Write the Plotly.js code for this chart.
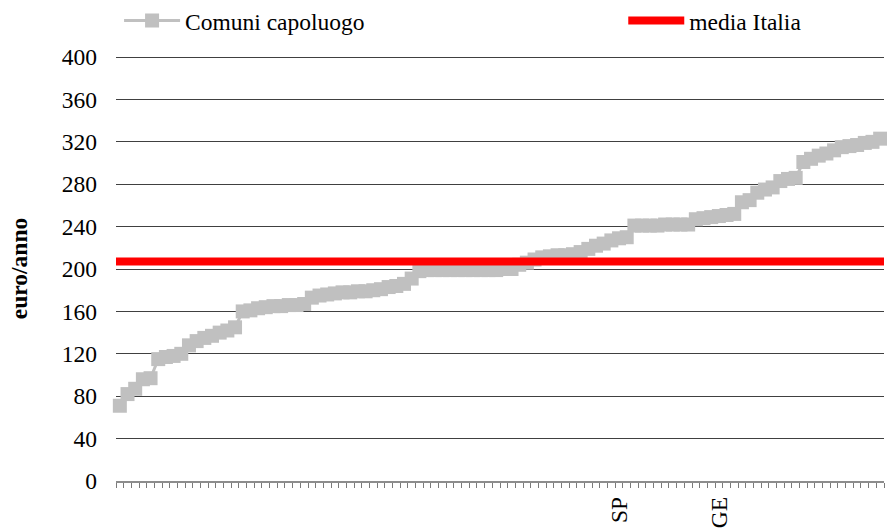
<!DOCTYPE html>
<html>
<head>
<meta charset="utf-8">
<script src="https://cdn.plot.ly/plotly-3.0.1.min.js"></script>
<style>html,body{margin:0;padding:0;background:#fff;}#chart{width:887px;height:532px;}</style>
</head>
<body>
<div id="chart"></div>
<script>
// Comuni capoluogo (sorted), euro/anno
const comuniValues = [
  71, 82, 87, 96, 97, 115, 117, 118, 120, 128,
  132, 135, 137, 140, 142, 145, 160, 161, 163, 164,
  165, 165, 166, 166, 167, 173, 175, 176, 177, 178,
  178, 179, 179, 180, 181, 183, 184, 186, 191, 198,
  199, 199, 199, 199, 199, 199, 199, 199, 199, 199,
  200, 200, 204, 206, 209, 211, 212, 213, 213, 214,
  216, 219, 222, 224, 227, 229, 230, 241, 241, 241,
  241, 242, 242, 242, 242, 247, 248, 249, 250, 251,
  252, 263, 265, 272, 275, 277, 283, 285, 286, 301,
  304, 307, 309, 312, 315, 316, 317, 319, 320, 323
];
const mediaItalia = 207;
const categoryLabels = comuniValues.map(() => "");
categoryLabels[65] = "SP";
categoryLabels[78] = "GE";
const yTicks = [0, 40, 80, 120, 160, 200, 240, 280, 320, 360, 400];
const seriesNames = ["Comuni capoluogo", "media Italia"];

const idx = comuniValues.map((_, i) => i);
const mediaValues = comuniValues.map(() => mediaItalia);

const FONT = "Liberation Serif, Times New Roman, serif";
const FS = 23.5;

const traces = [
  {
    type: 'scatter', mode: 'lines', name: seriesNames[1],
    x: idx, y: mediaValues, xaxis: 'x2', yaxis: 'y',
    line: {color: '#FF0000', width: 8},
    legend: 'legend2', hoverinfo: 'skip'
  },
  {
    type: 'scatter', mode: 'lines+markers', name: seriesNames[0],
    x: idx, y: comuniValues, xaxis: 'x', yaxis: 'y',
    line: {color: '#C0C0C0', width: 3},
    marker: {symbol: 'square', size: 14, color: '#C0C0C0', line: {width: 0}},
    cliponaxis: false, legend: 'legend'
  }
];

const layout = {
  width: 887, height: 532,
  margin: {l: 116, r: 3, t: 56, b: 51, autoexpand: false},
  paper_bgcolor: '#fff', plot_bgcolor: '#fff',
  font: {family: FONT, size: FS, color: '#000'},
  showlegend: true,
  legend: {x: 0.004, y: 1.083, xanchor: 'left', yanchor: 'middle', itemwidth: 56,
           bgcolor: 'rgba(0,0,0,0)', font: {family: FONT, size: FS, color: '#000'}},
  legend2: {x: 0.6605, y: 1.083, xanchor: 'left', yanchor: 'middle', itemwidth: 56,
            bgcolor: 'rgba(0,0,0,0)', font: {family: FONT, size: FS, color: '#000'}},
  xaxis: {
    range: [-0.5, comuniValues.length - 0.5],
    tickmode: 'array', tickvals: idx, ticktext: categoryLabels,
    tickangle: -90, ticks: '', ticklabelstandoff: 5,
    showgrid: false, zeroline: false,
    showline: true, linecolor: '#8c8c8c', linewidth: 1.5,
    minor: {tick0: -0.5, dtick: 1, ticks: 'outside', ticklen: 5, tickcolor: '#7a7a7a', tickwidth: 1, showgrid: false},
    tickfont: {family: FONT, size: FS}
  },
  xaxis2: {
    overlaying: 'x', range: [0, comuniValues.length - 1], visible: false
  },
  yaxis: {
    range: [0, 401], tickmode: 'array', tickvals: yTicks,
    showgrid: true, gridcolor: '#404040', gridwidth: 1,
    zeroline: false, showline: false, ticks: '', ticklabelstandoff: 18,
    tickfont: {family: FONT, size: FS},
    title: {text: '<b>euro/anno</b>', standoff: 27, font: {family: FONT, size: FS}}
  }
};

Plotly.newPlot('chart', traces, layout, {displayModeBar: false, staticPlot: true});
</script>
</body>
</html>
